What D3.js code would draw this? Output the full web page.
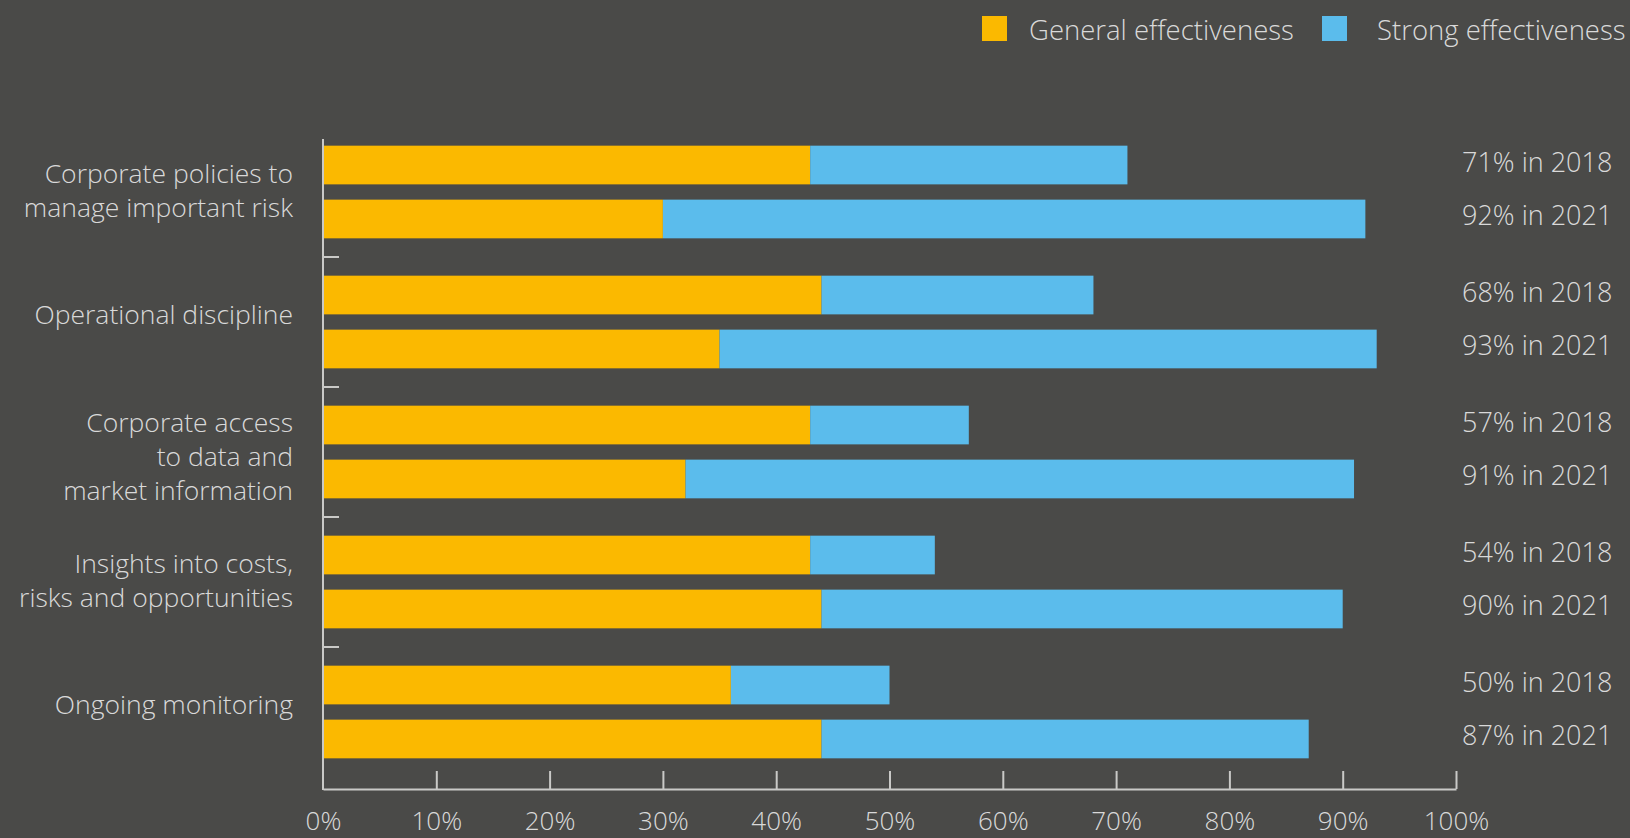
<!DOCTYPE html>
<html>
<head>
<meta charset="utf-8">
<script src="https://cdn.jsdelivr.net/npm/d3@7"></script>
<style>
  html, body { margin: 0; padding: 0; background: #4a4a48; }
  svg { display: block; }
  text { font-family: "Open Sans", "Noto Sans", sans-serif; font-weight: 300; fill: #d9d9d9; }
</style>
</head>
<body>
<svg id="chart" width="1630" height="838"></svg>
<script>
// Effectiveness ratings per capability, 2018 vs 2021 (share of respondents, %)
const categories = [
  ["Corporate policies to", "manage important risk"],
  ["Operational discipline"],
  ["Corporate access", "to data and", "market information"],
  ["Insights into costs,", "risks and opportunities"],
  ["Ongoing monitoring"]
];
const years = ["2018", "2021"];
const general2018 = [43, 44, 43, 43, 36];
const strong2018  = [28, 24, 14, 11, 14];
const general2021 = [30, 35, 32, 44, 44];
const strong2021  = [62, 58, 59, 46, 43];
const seriesNames = ["General effectiveness", "Strong effectiveness"];
const xTicks = [0, 10, 20, 30, 40, 50, 60, 70, 80, 90, 100];

const colors = { general: "#fbb900", strong: "#5bbcec", axis: "#c9c9c7" };

const rows = [];
categories.forEach((cat, i) => {
  rows.push({ cat: i, year: "2018", general: general2018[i], strong: strong2018[i] });
  rows.push({ cat: i, year: "2021", general: general2021[i], strong: strong2021[i] });
});

const svg = d3.select("#chart");

const x = d3.scaleLinear().domain([0, 100]).range([323, 1456]);
const yGroup = d3.scaleBand().domain(d3.range(categories.length)).range([127, 777]);
const yInner = d3.scaleBand().domain(years).range([0, yGroup.bandwidth()])
  .paddingInner(0.283).paddingOuter(0.346);

const barY = d => yGroup(d.cat) + yInner(d.year);

// stacked bars: general first, strong on top of it
const g = svg.append("g");
g.selectAll("rect.general").data(rows).join("rect")
  .attr("class", "general")
  .attr("x", x(0))
  .attr("y", barY)
  .attr("width", d => x(d.general) - x(0))
  .attr("height", yInner.bandwidth())
  .attr("fill", colors.general);
g.selectAll("rect.strong").data(rows).join("rect")
  .attr("class", "strong")
  .attr("x", d => x(d.general))
  .attr("y", barY)
  .attr("width", d => x(d.general + d.strong) - x(d.general))
  .attr("height", yInner.bandwidth())
  .attr("fill", colors.strong);

// totals on the right
svg.append("g").selectAll("text").data(rows).join("text")
  .attr("x", 1462)
  .attr("y", d => barY(d) + yInner.bandwidth() / 2 + 6.5)
  .attr("font-size", 27)
  .text(d => `${d.general + d.strong}% in ${d.year}`);

// x axis with ticks pointing up
const xAxis = d3.axisBottom(x).tickValues(xTicks).tickFormat(d => d + "%")
  .tickSizeInner(-18).tickSizeOuter(0).tickPadding(23);
const xg = svg.append("g").attr("transform", "translate(0,789)").call(xAxis);
xg.select(".domain").attr("stroke", colors.axis).attr("stroke-width", 2);
xg.selectAll(".tick line").attr("stroke", colors.axis).attr("stroke-width", 2);
xg.selectAll(".tick text").attr("font-size", 26).attr("fill", "#d9d9d9")
  .attr("font-family", null);
xg.selectAll(".tick").filter(d => d === 0).select("line").remove();

// y axis line and group separators
svg.append("line").attr("x1", x(0)).attr("x2", x(0)).attr("y1", 139).attr("y2", 790)
  .attr("stroke", colors.axis).attr("stroke-width", 2);
svg.append("g").selectAll("line").data(d3.range(1, categories.length)).join("line")
  .attr("x1", x(0)).attr("x2", x(0) + 16)
  .attr("y1", d => yGroup(d)).attr("y2", d => yGroup(d))
  .attr("stroke", colors.axis).attr("stroke-width", 2);

// category labels, right aligned
const lineH = 34;
const catG = svg.append("g").selectAll("text").data(categories).join("text")
  .attr("text-anchor", "end")
  .attr("font-size", 26.5)
  .attr("y", (d, i) => yGroup(i) + yGroup.bandwidth() / 2 - (d.length - 1) * 11 + 2);
catG.selectAll("tspan").data(d => d).join("tspan")
  .attr("x", 293)
  .attr("dy", (d, i) => i === 0 ? 0 : lineH)
  .text(d => d);

// legend
const legendX = [982, 1322];
const legendTextX = [47, 55];
const legend = svg.append("g").selectAll("g").data(seriesNames).join("g")
  .attr("transform", (d, i) => `translate(${legendX[i]},16)`);
legend.append("rect").attr("width", 25).attr("height", 25)
  .attr("fill", (d, i) => i === 0 ? colors.general : colors.strong);
legend.append("text").attr("x", (d, i) => legendTextX[i]).attr("y", 24)
  .attr("font-size", 27.5).text(d => d);
</script>
</body>
</html>
